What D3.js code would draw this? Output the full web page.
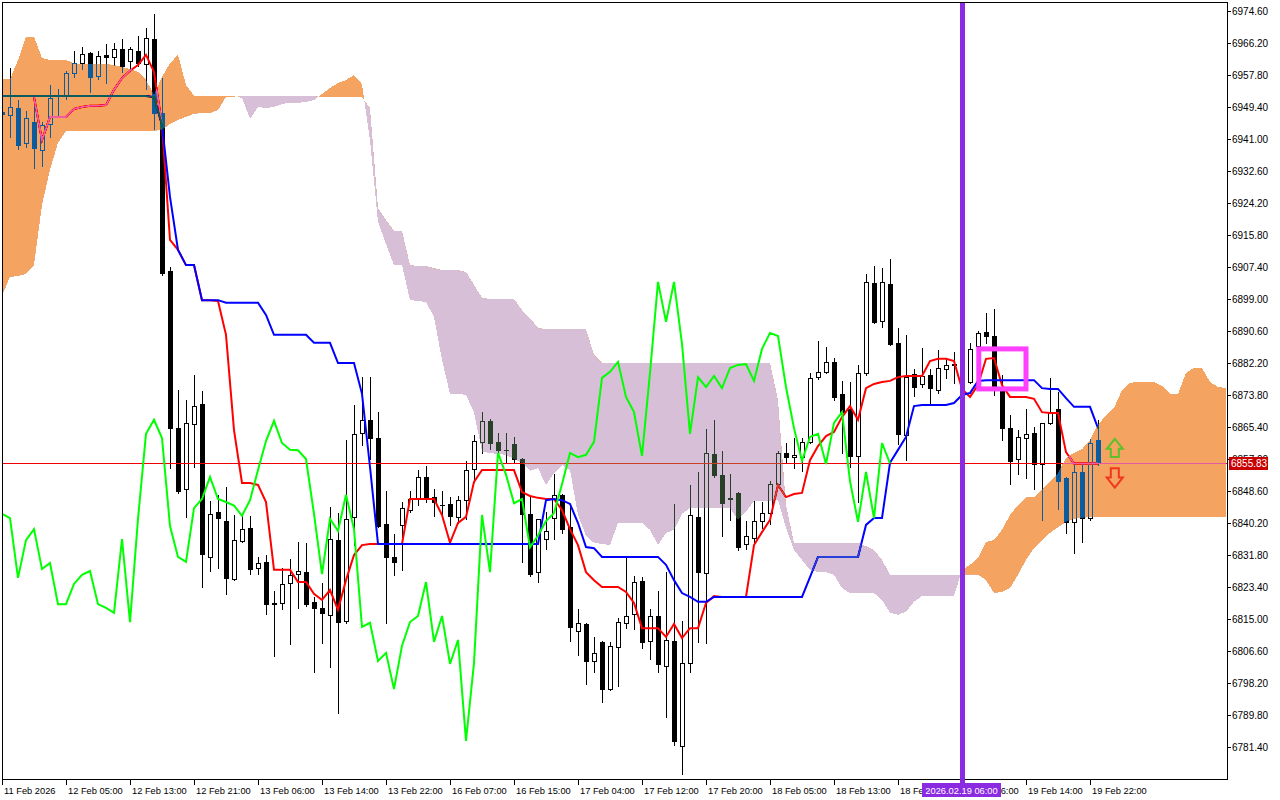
<!DOCTYPE html>
<html><head><meta charset="utf-8">
<script src="https://cdn.jsdelivr.net/npm/d3@7"></script>
<style>html,body{margin:0;padding:0;background:#fff;}svg{display:block;}</style>
</head><body>
<svg id="c" width="1280" height="800"></svg>
<script>
// ---------------- DATA (US500 H1, Ichimoku) ----------------
const opens = [
6948.1,6947.3,6949.1,6940.0,6945.5,6938.1,6944.9,6952.3,6952.3,6958.3,
6961.0,6963.6,6957.5,6963.1,6962.5,6964.6,6961.5,6964.1,6960.7,6967.3,
6947.8,6906.4,6865.1,6849.1,6866.2,6871.4,6831.3,6843.1,6840.7,6825.5,
6835.5,6838.9,6828.4,6830.0,6819.2,6819.2,6824.5,6826.8,6827.3,6819.5,
6817.9,6816.1,6835.7,6814.5,6841.8,6863.8,6867.3,6862.5,6839.9,6831.3,
6839.7,6843.6,6846.5,6852.3,6847.0,6845.0,6845.2,6841.8,6846.2,6854.4,
6861.5,6867.0,6861.5,6859.4,6860.9,6857.0,6842.6,6827.3,6836.0,6841.5,
6847.6,6839.1,6811.9,6813.7,6804.0,6809.0,6796.6,6807.7,6814.0,6816.3,
6825.0,6809.2,6815.8,6802.7,6809.2,6781.7,6803.5,6841.8,6827.1,6858.3,
6852.9,6846.8,6848.1,6834.6,6836.2,6840.7,6842.8,6850.4,6858.6,6857.5,
6857.5,6861.5,6878.5,6879.9,6882.5,6874.1,6870.0,6857.8,6879.6,6903.2,
6893.2,6903.0,6887.5,6863.3,6879.3,6876.7,6879.1,6875.1,6880.6,6881.7,
6879.9,6877.2,6886.7,6890.3,6889.3,6874.9,6865.1,6857.0,6862.5,6863.8,
6855.7,6866.5,6870.1,6852.0,6840.5,6853.6,6841.5,6862.0];
const highs = [
6948.6,6959.6,6951.2,6948.4,6949.7,6945.5,6955.2,6954.1,6958.9,6964.1,
6965.2,6963.8,6964.1,6965.9,6966.2,6967.3,6965.2,6968.0,6970.1,6973.8,
6957.0,6907.4,6875.1,6872.5,6879.1,6874.9,6846.0,6847.6,6849.7,6842.3,
6842.3,6842.1,6831.3,6831.8,6822.4,6828.4,6830.8,6835.2,6834.9,6820.8,
6824.5,6844.4,6842.8,6862.0,6871.2,6878.5,6878.5,6869.3,6848.6,6837.3,
6845.7,6848.6,6854.1,6855.2,6849.1,6848.6,6847.0,6847.3,6856.5,6863.3,
6869.3,6867.5,6863.8,6863.8,6862.7,6857.3,6847.3,6841.3,6843.1,6853.1,
6847.8,6844.9,6817.6,6814.0,6810.4,6809.3,6809.0,6815.3,6831.0,6826.3,
6826.0,6817.6,6822.4,6827.3,6845.2,6814.5,6850.2,6853.6,6864.9,6867.3,
6859.1,6853.1,6848.3,6840.7,6846.0,6845.7,6851.2,6859.1,6861.2,6862.5,
6862.5,6879.6,6888.0,6886.4,6883.5,6877.5,6877.2,6881.7,6905.6,6907.7,
6907.1,6909.5,6891.4,6889.6,6880.6,6886.1,6880.6,6885.6,6883.5,6885.1,
6881.4,6887.5,6890.6,6895.3,6896.4,6879.1,6868.5,6864.6,6870.1,6865.4,
6866.5,6878.3,6874.6,6852.3,6855.4,6856.0,6862.3,6867.3];
const lows = [
6947.0,6941.5,6938.4,6938.9,6933.4,6933.9,6941.5,6947.3,6951.5,6957.3,
6959.4,6953.3,6956.8,6955.7,6960.4,6958.6,6959.1,6960.2,6954.1,6943.6,
6905.3,6854.6,6848.1,6841.8,6854.9,6823.4,6827.6,6828.4,6821.6,6825.2,
6835.2,6826.8,6826.8,6816.3,6805.3,6817.6,6808.4,6817.9,6818.4,6801.1,
6808.7,6802.4,6790.3,6814.0,6834.4,6860.7,6857.0,6839.1,6814.0,6826.6,
6827.9,6843.1,6844.9,6845.7,6842.1,6841.8,6839.7,6840.2,6841.3,6851.0,
6858.6,6859.6,6858.6,6856.0,6856.0,6830.0,6826.3,6824.7,6833.4,6836.0,
6837.6,6809.2,6805.6,6797.9,6801.1,6793.2,6796.4,6797.4,6812.6,6812.4,
6807.4,6804.5,6801.1,6789.3,6781.9,6774.3,6801.1,6809.0,6808.7,6852.3,
6836.8,6841.0,6833.1,6833.4,6835.2,6838.9,6839.9,6849.9,6856.2,6854.6,
6853.9,6861.2,6878.0,6879.6,6872.5,6858.6,6854.9,6845.7,6879.1,6892.7,
6891.7,6887.0,6861.0,6856.7,6873.5,6875.9,6871.7,6874.3,6878.3,6876.9,
6873.5,6876.9,6885.6,6887.5,6873.8,6862.0,6850.4,6853.1,6852.0,6849.1,
6841.0,6866.2,6843.9,6837.6,6832.3,6835.2,6841.0,6855.5];
const closes = [
6947.6,6949.4,6939.4,6946.5,6938.6,6944.7,6951.8,6952.6,6958.3,6961.0,
6963.3,6957.3,6962.8,6962.5,6964.6,6960.2,6964.6,6961.0,6967.5,6947.8,
6905.8,6865.1,6848.6,6866.5,6870.9,6832.1,6842.6,6841.5,6825.8,6835.7,
6838.6,6828.1,6829.7,6818.9,6818.9,6824.2,6826.6,6827.6,6818.9,6817.9,
6816.6,6836.0,6814.2,6841.3,6863.6,6867.3,6862.5,6839.4,6831.3,6830.0,
6844.1,6846.5,6852.3,6846.5,6845.7,6844.8,6842.1,6846.2,6854.1,6861.7,
6867.0,6861.2,6859.4,6859.3,6857.0,6842.6,6826.8,6841.3,6838.1,6847.6,
6838.6,6812.9,6814.0,6804.0,6806.1,6796.6,6808.0,6814.2,6815.8,6824.7,
6809.0,6815.8,6803.2,6809.5,6783.0,6803.5,6842.3,6827.3,6858.6,6852.9,
6845.4,6846.5,6833.8,6836.9,6840.7,6842.8,6850.4,6858.6,6857.5,6858.1,
6861.5,6878.3,6879.9,6882.5,6873.3,6869.3,6857.8,6879.6,6903.5,6893.0,
6903.5,6887.2,6863.6,6878.5,6875.9,6878.8,6875.6,6880.9,6881.7,6881.9,
6877.5,6885.9,6890.1,6889.3,6875.9,6865.1,6856.5,6862.8,6863.6,6855.7,
6866.5,6869.3,6851.2,6840.5,6853.6,6841.5,6861.2,6855.83];

// Tenkan-sen (first value belongs to bar 4)
const tenkanStart = 4;
const tenkan = [
6952.0,6940.7,6946.8,6946.8,6946.8,6948.9,6949.4,6949.7,6949.7,6949.9,
6953.9,6957.0,6958.9,6960.4,6963.1,6958.6,6944.7,6914.5,6911.9,6907.9,
6907.9,6898.7,6898.7,6898.5,6889.6,6864.6,6850.7,6850.7,6850.2,6845.7,
6827.9,6827.9,6827.9,6824.7,6824.7,6821.6,6820.0,6822.6,6817.4,6825.2,
6831.8,6834.4,6834.7,6834.7,6834.7,6834.7,6834.7,6846.5,6846.5,6846.5,
6846.5,6842.3,6835.0,6840.2,6841.8,6851.0,6854.1,6854.1,6854.1,6854.1,
6854.1,6848.3,6847.3,6846.8,6846.5,6846.5,6843.6,6838.6,6834.4,6827.3,
6825.2,6823.4,6823.4,6823.4,6822.1,6819.2,6812.6,6812.6,6812.6,6810.3,
6813.7,6810.0,6812.6,6812.6,6819.2,6821.0,6820.8,6820.8,6820.8,6820.8,
6834.4,6837.8,6841.0,6850.2,6847.0,6847.8,6848.1,6856.7,6860.4,6863.0,
6864.1,6868.0,6870.9,6867.3,6875.6,6876.7,6877.2,6877.5,6878.5,6878.8,
6878.8,6878.8,6882.7,6883.3,6883.3,6882.7,6875.4,6873.3,6876.4,6883.3,
6883.5,6876.4,6873.3,6873.3,6873.3,6872.8,6869.3,6869.1,6869.1,6858.8,
6855.8,6855.8,6855.8,6855.8];
// Kijun-sen (bar 0 .. 137)
const kijun = [
6952.3,6952.3,6952.3,6952.3,6952.3,6952.3,6952.3,6952.3,6952.3,6952.3,
6952.3,6952.3,6952.3,6952.3,6952.3,6952.3,6952.3,6952.3,6952.3,6952.0,
6944.7,6925.8,6911.9,6907.9,6907.9,6898.7,6898.7,6898.7,6898.0,6898.0,
6898.0,6898.0,6898.0,6894.8,6889.6,6889.6,6889.6,6889.6,6889.6,6887.5,
6887.5,6887.5,6882.2,6882.2,6882.2,6874.1,6854.9,6834.7,6834.7,6834.7,
6834.7,6834.7,6834.7,6834.7,6834.7,6834.7,6834.7,6834.7,6834.7,6834.7,
6834.7,6834.7,6834.7,6834.7,6834.7,6834.7,6834.7,6834.7,6846.2,6846.5,
6846.2,6845.2,6840.2,6833.9,6833.6,6831.3,6831.3,6831.3,6831.3,6831.3,
6831.3,6831.3,6831.3,6829.2,6825.2,6821.8,6820.8,6819.5,6819.5,6820.8,
6820.8,6820.8,6820.8,6820.8,6820.8,6820.8,6820.8,6820.8,6820.8,6820.8,
6820.8,6826.0,6831.3,6831.3,6831.3,6831.3,6831.3,6831.3,6839.7,6841.5,
6841.5,6856.0,6859.4,6862.8,6870.9,6871.2,6871.2,6871.2,6871.2,6871.7,
6873.8,6874.3,6877.5,6877.7,6877.7,6877.7,6877.7,6877.7,6877.7,6877.7,
6875.6,6875.4,6875.4,6873.0,6870.7,6870.7,6870.7,6865.1];
// Senkou Span A / B as plotted (already shifted 26 bars forward), bar 0 .. 153
const senkouA = [
6956.7,6956.7,6961.7,6967.8,6967.8,6962.3,6961.7,6961.7,6961.7,6960.9,
6960.7,6960.7,6960.7,6960.7,6960.4,6959.9,6959.4,6958.6,6956.5,6952.6,
6957.3,6960.9,6963.1,6955.2,6952.3,6952.3,6952.3,6952.3,6952.3,6952.2,
6951.8,6946.3,6949.4,6949.1,6949.4,6950.2,6950.5,6950.5,6950.7,6951.2,
6952.8,6954.4,6955.7,6956.5,6957.8,6955.4,6940.7,6919.2,6913.4,6907.9,
6907.9,6898.7,6898.5,6898.2,6894.3,6883.0,6874.1,6874.1,6873.8,6869.3,
6858.9,6858.6,6858.3,6858.1,6857.0,6856.0,6853.9,6854.6,6850.2,6853.3,
6855.4,6854.1,6842.3,6836.8,6835.0,6834.7,6834.4,6840.2,6840.2,6840.2,
6840.2,6838.4,6834.4,6837.6,6838.4,6842.6,6844.1,6844.1,6844.1,6844.1,
6844.1,6844.1,6841.0,6843.1,6846.0,6846.0,6846.0,6846.2,6838.9,6833.1,
6830.5,6827.9,6827.3,6827.3,6826.6,6823.1,6821.8,6821.8,6821.8,6821.8,
6820.0,6816.6,6816.1,6816.9,6819.5,6821.0,6821.0,6821.0,6821.0,6821.0,
6827.9,6829.2,6831.0,6835.2,6835.7,6838.4,6842.3,6844.9,6847.0,6847.0,
6848.9,6851.0,6853.3,6857.3,6858.6,6859.6,6862.0,6866.0,6868.5,6870.4,
6875.1,6877.0,6877.2,6877.2,6877.2,6876.2,6874.1,6874.1,6879.6,6880.9,
6880.9,6877.2,6875.9,6875.6];
const senkouB = [
6899.8,6904.8,6905.0,6905.6,6907.9,6923.7,6932.9,6940.0,6943.1,6943.1,
6943.1,6943.1,6943.1,6943.1,6943.1,6943.1,6943.1,6943.1,6943.1,6943.1,
6943.4,6944.9,6946.0,6946.8,6947.6,6947.8,6947.8,6948.6,6952.0,6952.0,
6952.3,6952.3,6952.3,6952.3,6952.3,6952.3,6952.3,6952.3,6952.3,6952.3,
6952.0,6952.0,6952.0,6952.0,6952.0,6952.0,6949.1,6922.9,6919.7,6916.9,
6916.9,6907.9,6907.7,6907.7,6907.1,6906.6,6906.6,6906.6,6906.1,6902.7,
6899.3,6899.0,6899.0,6899.0,6899.0,6896.1,6894.0,6891.4,6891.1,6891.1,
6891.1,6891.1,6891.1,6891.1,6884.3,6882.2,6882.2,6882.2,6882.2,6882.2,
6882.2,6882.2,6882.2,6882.2,6882.2,6882.2,6882.2,6882.2,6882.2,6882.2,
6882.2,6882.2,6882.2,6882.2,6882.2,6882.2,6882.2,6872.5,6844.9,6835.0,
6835.0,6835.0,6835.0,6835.0,6835.0,6835.0,6835.0,6835.0,6834.1,6833.1,
6830.5,6826.6,6826.6,6826.6,6826.6,6826.6,6826.6,6826.6,6826.6,6826.6,
6826.6,6826.6,6826.6,6825.2,6821.8,6822.1,6823.1,6826.6,6830.5,6833.6,
6835.7,6837.6,6839.1,6840.5,6841.3,6841.5,6841.8,6841.8,6841.8,6841.8,
6841.8,6841.8,6841.8,6841.8,6841.8,6841.8,6841.8,6841.8,6841.8,6841.8,
6841.8,6841.8,6841.8,6841.8];
const chikouShift = 26; // Chikou span = close plotted 26 bars back

const priceTicks = ["6974.60","6966.20","6957.80","6949.40","6941.00","6932.60","6924.20","6915.80",
  "6907.40","6899.00","6890.60","6882.20","6873.80","6865.40","6857.00","6848.60","6840.20",
  "6831.80","6823.40","6815.00","6806.60","6798.20","6789.80","6781.40"];
const timeLabels = ["11 Feb 2026","12 Feb 05:00","12 Feb 13:00","12 Feb 21:00","13 Feb 06:00",
  "13 Feb 14:00","13 Feb 22:00","16 Feb 07:00","16 Feb 15:00","17 Feb 04:00","17 Feb 12:00",
  "17 Feb 20:00","18 Feb 05:00","18 Feb 13:00","18 Feb 21:00","19 Feb 06:00","19 Feb 14:00","19 Feb 22:00"];
const timeLabelBars = [0,8,16,24,32,40,48,56,64,72,80,88,96,104,112,120,128,136];
const lastPrice = 6855.83;
const vlineBar = 120, vlineText = "2026.02.19 06:00";
const boxBars = [122.1, 128.0], boxPrices = [6885.9, 6875.4];
const arrowBar = 139.1;
const upArrowPrices = [6862.3, 6857.5];
const downArrowPrices = [6854.6, 6849.5];

// ---------------- DRAW ----------------
const svg = d3.select('#c');
const xs = d3.scaleLinear().domain([0, 153]).range([2, 1226]);
const ys = d3.scaleLinear().domain([6781.4, 6974.6]).range([747, 11]);
const FONT = "'Liberation Sans', Arial, sans-serif";

svg.append('rect').attr('width',1280).attr('height',800).attr('fill','#fff');
const defs = svg.append('defs');
defs.append('clipPath').attr('id','plotClip').append('rect')
  .attr('x',3).attr('y',3).attr('width',1224).attr('height',776);

const idxB = d3.range(senkouB.length);
defs.append('clipPath').attr('id','aboveB').append('path')
  .attr('d', d3.area().x(i=>xs(i)).y0(-10).y1(i=>ys(senkouB[i]))(idxB));
defs.append('clipPath').attr('id','belowB').append('path')
  .attr('d', d3.area().x(i=>xs(i)).y0(900).y1(i=>ys(senkouB[i]))(idxB));

const g = svg.append('g').attr('clip-path','url(#plotClip)');
g.append('rect').attr('x',0).attr('y',0).attr('width',1280).attr('height',800).attr('fill','#fff');

// candles
const cg = g.append('g').attr('shape-rendering','crispEdges');
opens.forEach((o,i)=>{
  const c = closes[i], cx = Math.round(xs(i));
  const yH = Math.round(ys(highs[i])), yL = Math.round(ys(lows[i]));
  const yO = Math.round(ys(o)), yC = Math.round(ys(c));
  const top = Math.min(yO,yC), bot = Math.max(yO,yC);
  cg.append('line').attr('x1',cx+0.5).attr('x2',cx+0.5).attr('y1',yH).attr('y2',yL+1)
    .attr('stroke','#000').attr('stroke-width',1);
  if (bot - top < 1) {
    cg.append('line').attr('x1',cx-2).attr('x2',cx+3).attr('y1',top+0.5).attr('y2',top+0.5)
      .attr('stroke','#000').attr('stroke-width',1);
  } else if (c >= o) {
    cg.append('rect').attr('x',cx-1.5).attr('y',top+0.5).attr('width',4).attr('height',bot-top)
      .attr('fill','#fff').attr('stroke','#000').attr('stroke-width',1);
  } else {
    cg.append('rect').attr('x',cx-2).attr('y',top).attr('width',5).attr('height',bot-top+1)
      .attr('fill','#000');
  }
});

// bid line
const yBid = Math.round(ys(lastPrice));
g.append('rect').attr('x',0).attr('y',yBid).attr('width',1227).attr('height',1).attr('fill','#f00000');

const line = d3.line().x(d=>xs(d[0])).y(d=>ys(d[1]));
g.append('path').attr('d', line(tenkan.map((v,k)=>[k+tenkanStart, v])))
  .attr('fill','none').attr('stroke','#ff0000').attr('stroke-width',2);
g.append('path').attr('d', line(kijun.map((v,k)=>[k, v])))
  .attr('fill','none').attr('stroke','#0000ff').attr('stroke-width',2);

// cloud (XOR-like rendering as in MT5: difference blend with inverted colours)
const cloudArea = d3.area().x(i=>xs(i)).y0(i=>ys(senkouB[i])).y1(i=>ys(senkouA[i]));
const idxA = d3.range(senkouA.length);
g.append('g').attr('clip-path','url(#aboveB)').style('mix-blend-mode','difference')
  .append('path').attr('d', cloudArea(idxA)).attr('fill','#0B5B9F').attr('shape-rendering','crispEdges');
g.append('g').attr('clip-path','url(#belowB)').style('mix-blend-mode','difference')
  .append('path').attr('d', cloudArea(idxA)).attr('fill','#274027').attr('shape-rendering','crispEdges');

// chikou
g.append('path').attr('d', line(closes.slice(chikouShift).map((v,k)=>[k, v])))
  .attr('fill','none').attr('stroke','#00ff00').attr('stroke-width',2);

// objects
const vx = Math.round(xs(vlineBar));
g.append('rect').attr('x',vx-2).attr('y',0).attr('width',5).attr('height',800).attr('fill','#8A2BE2');
g.append('rect').attr('x',xs(boxBars[0])).attr('y',ys(boxPrices[0]))
  .attr('width',xs(boxBars[1])-xs(boxBars[0])).attr('height',ys(boxPrices[1])-ys(boxPrices[0]))
  .attr('fill','none').attr('stroke','#ff40ff').attr('stroke-width',5);
function arrow(cx, yt, yb, up){
  const hh=10, hw=8, sw=4;
  let p;
  if(up) p=[[cx,yt],[cx+hw,yt+hh],[cx+sw,yt+hh],[cx+sw,yb],[cx-sw,yb],[cx-sw,yt+hh],[cx-hw,yt+hh]];
  else p=[[cx,yb],[cx+hw,yb-hh],[cx+sw,yb-hh],[cx+sw,yt],[cx-sw,yt],[cx-sw,yb-hh],[cx-hw,yb-hh]];
  return 'M'+p.map(q=>q.join(',')).join('L')+'Z';
}
const ax = xs(arrowBar);
g.append('path').attr('d',arrow(ax, ys(upArrowPrices[0]), ys(upArrowPrices[1]), true))
  .attr('fill','none').attr('stroke','#5cc02c').attr('stroke-width',2);
g.append('path').attr('d',arrow(ax, ys(downArrowPrices[0]), ys(downArrowPrices[1]), false))
  .attr('fill','none').attr('stroke','#f0361e').attr('stroke-width',2);

// frame & axes
svg.append('rect').attr('x',2.5).attr('y',2.5).attr('width',1225).attr('height',777)
  .attr('fill','none').attr('stroke','#000').attr('stroke-width',1).attr('shape-rendering','crispEdges');
const ax2 = svg.append('g').attr('shape-rendering','crispEdges');
priceTicks.forEach(t=>{
  const y = Math.round(ys(+t))+0.5;
  ax2.append('line').attr('x1',1228).attr('x2',1231).attr('y1',y).attr('y2',y).attr('stroke','#000');
  svg.append('text').attr('x',1232).attr('y',y+3.5).text(t)
    .attr('font-family',FONT).attr('font-size','10px').attr('fill','#000');
});
timeLabels.forEach((t,k)=>{
  const x = Math.round(xs(timeLabelBars[k]))+0.5;
  ax2.append('line').attr('x1',x).attr('x2',x).attr('y1',780).attr('y2',785).attr('stroke','#000');
  svg.append('text').attr('x',x+1.5).attr('y',794).text(t)
    .attr('font-family',FONT).attr('font-size','9.3px').attr('fill','#000');
});
// vertical line label on time axis
svg.append('rect').attr('x',922).attr('y',783).attr('width',79).attr('height',14).attr('fill','#8A2BE2');
svg.append('text').attr('x',961.5).attr('y',794).attr('text-anchor','middle').text(vlineText)
  .attr('font-family',FONT).attr('font-size','9.3px').attr('fill','#fff');
svg.append('rect').attr('x',vx-2).attr('y',779).attr('width',5).attr('height',4).attr('fill','#8A2BE2');
// last price label
svg.append('rect').attr('x',1229).attr('y',yBid-6).attr('width',39).attr('height',13).attr('fill','#c80000');
svg.append('text').attr('x',1231).attr('y',yBid+4).text(lastPrice.toFixed(2))
  .attr('font-family',FONT).attr('font-size','10px').attr('fill','#fff');
</script>
</body></html>
